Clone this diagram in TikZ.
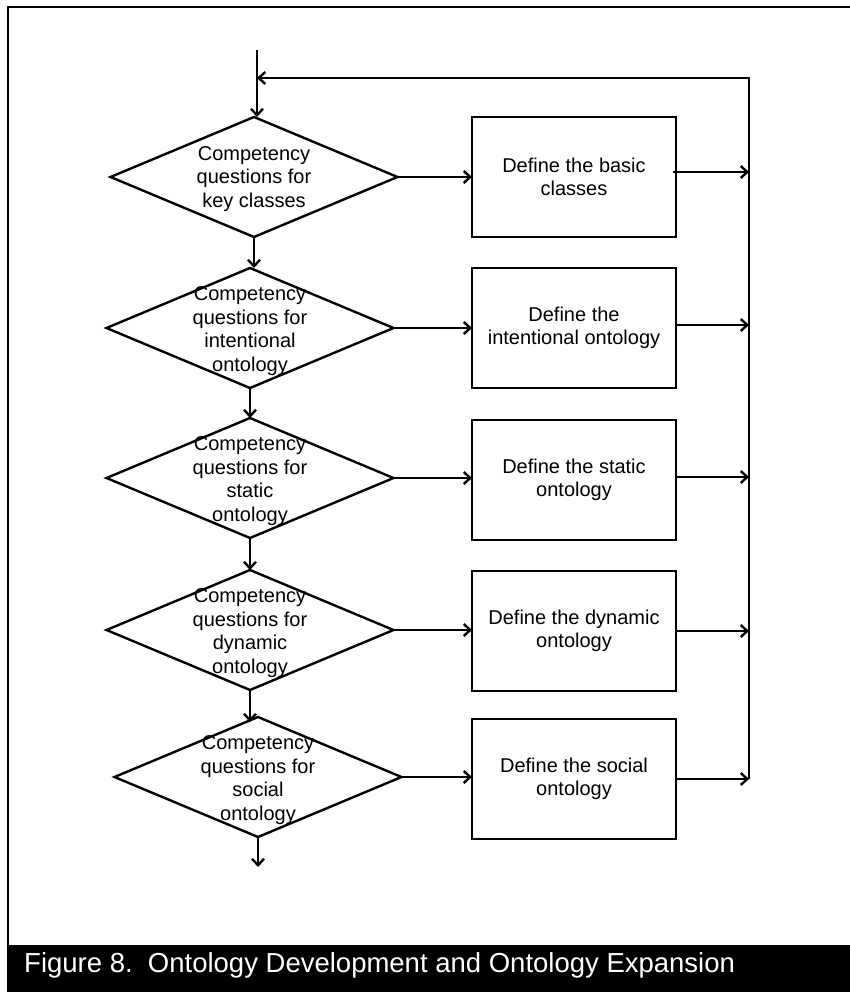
\documentclass[tikz,border=0pt]{standalone}
\usepackage{fontspec}
\setmainfont{Liberation Sans}
\usetikzlibrary{shapes.geometric,arrows.meta}
\begin{document}
\begin{tikzpicture}[x=1pt,y=-1pt,
  line width=2.4pt,
  every node/.style={font=\fontsize{20}{23.5}\selectfont},
  decision/.style={draw,diamond,inner sep=0pt,outer sep=0pt,
    minimum width=287pt,minimum height=120pt},
  qtext/.style={align=center,inner sep=0pt},
  stepbox/.style={draw,rectangle,inner sep=0pt,outer sep=0pt,
    minimum width=204pt,minimum height=120pt,align=center},
  arr/.style={-{Straight Barb[length=6.5pt,width=12pt]}}]
\useasboundingbox (0,0) rectangle (850,992);

% outer frame and caption bar
\draw (8,7) rectangle (870,1010);
\fill[black] (7,945) rectangle (851,993);
\node[anchor=base west,inner sep=0pt,text=white,
  font=\fontsize{27.5}{30}\selectfont] (cap) at (23,972)
  {Figure 8.\ \ Ontology Development and Ontology Expansion};

% competency-question decisions
\node[decision] (d1) at (254,177) {};
\node[decision] (d2) at (250,328) {};
\node[decision] (d3) at (250,478) {};
\node[decision] (d4) at (250,630) {};
\node[decision] (d5) at (258,777) {};
\node[qtext] (t1) at (254,179) {Competency\\questions for\\key classes};
\node[qtext] (t2) at (250,331) {Competency\\questions for\\intentional\\ontology};
\node[qtext] (t3) at (250,481) {Competency\\questions for\\static\\ontology};
\node[qtext] (t4) at (250,633) {Competency\\questions for\\dynamic\\ontology};
\node[qtext] (t5) at (258,780) {Competency\\questions for\\social\\ontology};

% definition steps
\node[stepbox] (b1) at (574,177) {Define the basic\\classes};
\node[stepbox] (b2) at (574,328) {Define the\\intentional ontology};
\node[stepbox] (b3) at (574,480) {Define the static\\ontology};
\node[stepbox] (b4) at (574,631) {Define the dynamic\\ontology};
\node[stepbox] (b5) at (574,779) {Define the social\\ontology};

% entry point, feedback rail and exit
\coordinate (top) at (257,50);
\coordinate (rt) at (749,78);
\coordinate (rb) at (749,779);
\coordinate (out) at (258,867);

\draw[arr] (top) -- (top |- d1.north);
\draw[arr] (rb) -- (rt) -- (top |- rt);

% decision chain
\draw[arr] (d1.south) -- (d1.south |- d2.north);
\draw[arr] (d2.south) -- (d2.south |- d3.north);
\draw[arr] (d3.south) -- (d3.south |- d4.north);
\draw[arr] (d4.south) -- ([yshift=-5pt]d4.south |- d5.north);
\draw[arr] (d5.south) -- (out);

% decisions into steps
\draw[arr] (d1.east) -- (d1.east -| b1.west);
\draw[arr] (d2.east) -- (d2.east -| b2.west);
\draw[arr] (d3.east) -- (d3.east -| b3.west);
\draw[arr] (d4.east) -- (d4.east -| b4.west);
\draw[arr] (d5.east) -- (d5.east -| b5.west);

% steps back to the rail
\draw[arr] ([xshift=-3pt,yshift=5pt]b1.east) -- ([yshift=5pt]b1.east -| rt);
\draw[arr] ([yshift=3pt]b2.east) -- ([yshift=3pt]b2.east -| rt);
\draw[arr] ([yshift=3pt]b3.east) -- ([yshift=3pt]b3.east -| rt);
\draw[arr] (b4.east) -- (b4.east -| rt);
\draw[arr] (b5.east) -- (b5.east -| rt);
\end{tikzpicture}
\end{document}
